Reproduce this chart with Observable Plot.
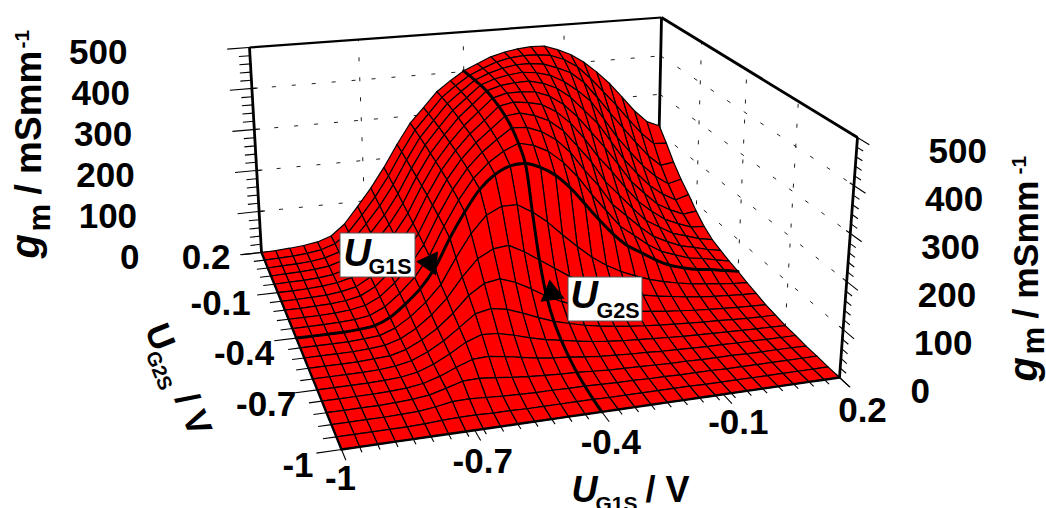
<!DOCTYPE html>
<html><head><meta charset="utf-8">
<style>html,body{margin:0;padding:0;background:#fff}svg{display:block}</style>
<script src="https://cdn.jsdelivr.net/npm/d3@7"></script>
<script src="https://cdn.jsdelivr.net/npm/@observablehq/plot@0.6"></script>
</head><body><div id="chart"></div>
<script>
// ---- data: g_m [mS/mm], one row per U_G2S (-1 to 0.2, step 0.06), one column per U_G1S (-1 to 0.2, step 0.04)
const u1Values = d3.range(31).map(i => +(-1 + i * 0.04).toFixed(2));
const u2Values = d3.range(21).map(j => +(-1 + j * 0.06).toFixed(2));
const gm = [
[0,0,0,0,0,0,0,0,0,0,0,0,0,0,0,0,0,0,0,0,0,0,0,0,0,0,0,0,0,0,0],
[0,0,0,0,0,1,3,4,4,3,3,2,2,2,2,2,1,1,1,1,1,1,0,0,0,0,0,0,0,0,0],
[0,0,0,0,1,2,6,12,13,11,9,8,7,7,6,6,5,4,4,3,3,2,2,2,1,1,1,1,1,1,1],
[0,0,0,0,1,3,7,16,26,27,24,20,17,15,13,12,10,8,7,6,5,4,4,3,3,3,2,2,2,2,1],
[0,0,0,0,1,3,8,18,32,44,46,41,35,29,25,22,18,15,13,11,10,8,7,6,5,5,4,4,3,3,3],
[0,0,0,0,1,3,9,21,38,58,70,68,60,50,42,36,30,25,21,18,16,14,12,10,9,8,7,6,5,5,4],
[0,0,0,0,1,4,11,25,44,68,93,100,94,82,68,56,47,39,33,28,24,21,18,16,14,12,11,9,8,7,7],
[0,0,0,0,2,4,13,29,50,78,112,134,140,128,110,90,74,62,52,44,37,32,28,24,21,18,16,14,12,11,10],
[0,0,0,0,2,5,15,33,58,90,132,168,186,190,172,150,128,106,88,74,62,52,44,38,33,28,24,21,19,17,16],
[0,0,0,0,2,5,17,38,65,100,155,205,242,258,258,238,212,180,150,122,100,82,68,56,47,40,34,30,26,23,21],
[0,0,0,0,2,6,20,45,75,118,180,235,282,312,328,330,318,297,265,225,185,148,118,98,78,62,52,44,40,34,28],
[0,0,0,1,3,8,23,49,81,125,188,244,290,322,345,360,352,335,307,270,225,185,145,120,95,75,63,52,47,40,33],
[0,0,0,1,4,10,26,53,87,132,195,251,296,330,356,380,378,365,343,310,265,225,178,148,118,92,76,62,55,46,40],
[0,0,1,2,5,12,29,58,93,139,201,257,301,336,364,392,396,387,372,345,305,265,215,180,145,112,93,74,64,54,48],
[0,0,1,2,6,13,32,63,99,145,207,262,305,341,370,400,407,403,395,375,345,305,258,220,178,140,113,90,76,64,62],
[0,0,1,3,7,15,35,68,105,151,212,266,308,345,375,405,414,414,411,398,375,342,302,262,218,172,140,110,92,78,82],
[0,1,1,3,7,16,38,72,110,157,217,270,311,349,378,408,418,422,423,415,400,375,340,305,258,210,172,138,114,96,106],
[0,1,2,4,8,18,41,76,115,163,221,274,314,352,380,408,420,427,431,427,418,400,375,345,298,250,210,172,142,120,128],
[0,1,2,4,9,19,44,80,120,168,225,277,316,354,381,406,420,430,436,436,432,420,405,378,338,295,255,215,178,150,155],
[0,1,2,5,10,21,46,84,125,173,229,280,317,355,381,404,419,432,440,443,442,438,425,404,372,335,298,258,220,190,188],
[0,1,3,6,11,22,48,88,130,178,232,282,318,355,380,402,417,432,441,447,450,449,437,422,400,372,340,302,263,232,218]
];
const gmTicks = [0,100,200,300,400,500];
const gmMinorTicks = d3.range(0,501,20);
const uTickValues = [-1,-0.7,-0.4,-0.1,0.2];
const uTickLabels = ["-1","-0.7","-0.4","-0.1","0.2"];
const gridU = [-0.7,-0.4,-0.1];
const gridG = [100,200,300,400];
const highlightU1 = 15; // U_G1S = -0.4 V
const highlightU2 = 10; // U_G2S = -0.4 V

// ---- camera: where the corners of the plot box fall on the page
const floorCorners = [[341,449],[839,377],[657,209],[261,252]];
const topCorners   = [[330,189],[857,137],[661,17],[249,47]];
function homography(q){
  const [[x0,y0],[x1,y1],[x2,y2],[x3,y3]] = q;
  const dx1=x1-x2,dx2=x3-x2,sx=x0-x1+x2-x3,dy1=y1-y2,dy2=y3-y2,sy=y0-y1+y2-y3;
  const det=dx1*dy2-dx2*dy1, g=(sx*dy2-dx2*sy)/det, h=(dx1*sy-sx*dy1)/det;
  const a=x1-x0+g*x1,b=x3-x0+h*x3,d=y1-y0+g*y1,e=y3-y0+h*y3;
  return (u,v)=>{const w=g*u+h*v+1;return [(a*u+b*v+x0)/w,(d*u+e*v+y0)/w];};
}
const hFloor=homography(floorCorners), hTop=homography(topCorners);
function P(u1,u2,g){
  const u=(u1+1)/1.2,v=(u2+1)/1.2,a=hFloor(u,v),b=hTop(u,v),t=g/500;
  return [a[0]+(b[0]-a[0])*t,a[1]+(b[1]-a[1])*t];
}
const seg=(a,b)=>{const p=P(...a),q=P(...b);return {x1:p[0],y1:p[1],x2:q[0],y2:q[1]};};
const pt=(a,b)=>{const p=P(u1Values[a],u2Values[b],gm[b][a]);return {x:p[0],y:p[1]};};

// ---- surface cells, far to near
const cells=[];
for(let i=u1Values.length-2;i>=0;i--)for(let j=u2Values.length-2;j>=0;j--){
  [[i,j],[i+1,j],[i+1,j+1],[i,j+1],[i,j]].forEach(([a,b])=>{
    cells.push({cell:i*100+j,...pt(a,b)});
  });
}
const curveU1=u1Values.map((u,i)=>pt(i,highlightU2));
const curveU2=u2Values.map((u,j)=>pt(highlightU1,j));
const frontEdge=u1Values.map((u,i)=>pt(i,0));
const leftEdge=u2Values.map((u,j)=>pt(0,j));

// ---- walls
const gridLines=[
  ...gridG.map(g=>seg([-1,.2,g],[.2,.2,g])),
  ...gridG.map(g=>seg([.2,.2,g],[.2,-1,g])),
  ...gridU.map(u=>seg([u,.2,0],[u,.2,500])),
  ...gridU.map(u=>seg([.2,u,0],[.2,u,500]))
];
const boxThin=[seg([-1,.2,500],[.2,.2,500])];
const boxThick=[seg([.2,.2,500],[.2,-1,500]),seg([-1,.2,0],[-1,.2,500]),seg([.2,.2,0],[.2,.2,500]),seg([.2,-1,0],[.2,-1,500])];
const isMajorG=g=>g%100===0;
const isMajorU=u=>uTickValues.includes(u);
const u1Ticks=[...new Set([...u1Values,...uTickValues])];
const ticks=[
  ...gmMinorTicks.map(g=>seg([-1+(isMajorG(g)?.016:0),.2,g],[-1-(isMajorG(g)?.06:.03),.2,g])),
  ...gmMinorTicks.map(g=>seg([.2,-1+(isMajorG(g)?.02:0),g],[.2,-1-(isMajorG(g)?.055:.03),g])),
  ...u2Values.map(u=>seg([-1,u,0],[-1-(isMajorU(u)?.055:.03),u,0])),
  ...u1Ticks.map(u=>seg([u,-1,0],[u,-1-(isMajorU(u)?.05:.025),0]))
];

// ---- text
const font="'Liberation Sans',Arial,sans-serif";
const txt=(s,x,y,o={})=>Plot.text([s],{text:d=>d,x:()=>x,y:()=>y,fontFamily:font,fontWeight:"bold",fontSize:o.size||35,
  fontStyle:o.italic?"italic":"normal",textAnchor:o.anchor||"start",lineAnchor:o.line||"bottom",rotate:o.rotate||0,fill:"#000"});
const gmLeft=gmTicks.map(g=>{const p=P(-1,.2,g);return Plot.text([g],{text:d=>String(d),x:()=>p[0]-122,y:()=>p[1]+5,textAnchor:"end",lineAnchor:"middle",fontFamily:font,fontWeight:"bold",fontSize:35,fill:"#000"});});
const gmRight=gmTicks.map(g=>{const p=P(.2,-1,g);return Plot.text([g],{text:d=>String(d),x:()=>p[0]+71,y:()=>p[1]+14,textAnchor:"start",lineAnchor:"middle",fontFamily:font,fontWeight:"bold",fontSize:35,fill:"#000"});});
const u2Offsets=[[-28,16],[-21,15],[-22,16],[-27,11],[-31,5]];
const u1Offsets=[[-1,29],[8,32],[9,31],[15,28],[23,33]];
const u2Labels=uTickValues.map((u,k)=>{const p=P(-1,u,0);return Plot.text([uTickLabels[k]],{text:d=>d,x:()=>p[0]+u2Offsets[k][0],y:()=>p[1]+u2Offsets[k][1],textAnchor:"end",lineAnchor:"middle",fontFamily:font,fontWeight:"bold",fontSize:35,fill:"#000"});});
const u1Labels=uTickValues.map((u,k)=>{const p=P(u,-1,0);return Plot.text([uTickLabels[k]],{text:d=>d,x:()=>p[0]+u1Offsets[k][0],y:()=>p[1]+u1Offsets[k][1],textAnchor:"middle",lineAnchor:"middle",fontFamily:font,fontWeight:"bold",fontSize:35,fill:"#000"});});

const arrowA=[pt(9,highlightU2)];
const arrowB=[pt(highlightU1,7)];

const plot=Plot.plot({
  width:1046,height:508,margin:0,
  x:{domain:[0,1046],range:[0,1046],axis:null},
  y:{domain:[0,508],range:[0,508],axis:null},
  style:{background:"#fff"},
  marks:[
    Plot.link(gridLines,{x1:"x1",y1:"y1",x2:"x2",y2:"y2",stroke:"#222",strokeWidth:1,strokeDasharray:"4,16"}),
    Plot.link(ticks,{x1:"x1",y1:"y1",x2:"x2",y2:"y2",stroke:"#000",strokeWidth:1.1}),
    Plot.link(boxThin,{x1:"x1",y1:"y1",x2:"x2",y2:"y2",stroke:"#000",strokeWidth:2.2}),
    Plot.link(boxThick,{x1:"x1",y1:"y1",x2:"x2",y2:"y2",stroke:"#000",strokeWidth:2.8}),
    Plot.line(cells,{x:"x",y:"y",z:"cell",fill:"#ff0000",stroke:"#000",strokeWidth:1.2,curve:"linear",strokeLinejoin:"round"}),
    Plot.line(frontEdge,{x:"x",y:"y",stroke:"#000",strokeWidth:2.4}),
    Plot.line(leftEdge,{x:"x",y:"y",stroke:"#000",strokeWidth:2.4}),
    Plot.line(curveU1,{x:"x",y:"y",stroke:"#000",strokeWidth:3,curve:"catmull-rom"}),
    Plot.line(curveU2,{x:"x",y:"y",stroke:"#000",strokeWidth:3,curve:"catmull-rom"}),
    Plot.dot(arrowA,{x:"x",y:"y",r:9,rotate:-85,symbol:"triangle",fill:"#000",stroke:"none",dx:-5,dy:-5}),
    Plot.dot(arrowB,{x:"x",y:"y",r:9,rotate:-8,symbol:"triangle",fill:"#000",stroke:"none",dx:5,dy:-3}),
    // annotation boxes
    Plot.rect([0],{x1:()=>340,x2:()=>415,y1:()=>233,y2:()=>277,fill:"#fff",stroke:"#555",strokeWidth:1}),
    Plot.rect([0],{x1:()=>568,x2:()=>642,y1:()=>277,y2:()=>321,fill:"#fff",stroke:"#555",strokeWidth:1}),
    txt("U",343,265,{italic:true,size:38}),
    txt("G1S",368,273,{size:21.5}),
    txt("U",570,307,{italic:true,size:38}),
    txt("G2S",596,317,{size:21.5}),
    ...gmLeft,...gmRight,...u2Labels,...u1Labels,
    // bottom axis title
    txt("U",571,501,{italic:true,size:36}),
    txt("G1S",595,510,{size:21}),
    txt("/ V",645,501,{size:36}),
    // left axis title
    txt("g",38,258,{italic:true,size:40,rotate:-90}),
    txt("m",49,231,{size:31,rotate:-90}),
    txt("/ mSmm",40,194,{size:37,rotate:-90}),
    txt("-1",28,48,{size:21,rotate:-90}),
    // right axis title
    txt("g",1036,381,{italic:true,size:40,rotate:-90}),
    txt("m",1043,354,{size:31,rotate:-90}),
    txt("/ mSmm",1037,318,{size:35.5,rotate:-90}),
    txt("-1",1025,174,{size:21,rotate:-90}),
    // U_G2S axis title
    txt("U",144,329,{size:35,rotate:68}),
    txt("G2S",145,354,{size:20,rotate:68}),
    txt("/ V",174,398,{size:35,rotate:68})
  ]
});
document.getElementById("chart").append(plot);
</script></body></html>
